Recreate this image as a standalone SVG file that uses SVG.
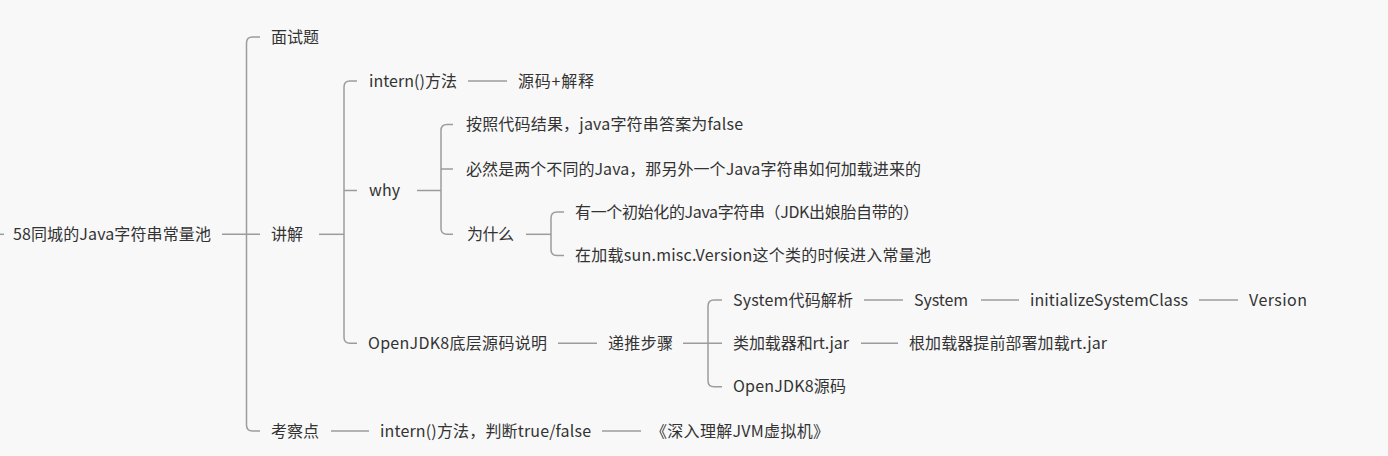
<svg xmlns="http://www.w3.org/2000/svg" width="1388" height="456" viewBox="0 0 1388 456">
<style>
.bg{fill:#f8f8f8}
.ln{fill:none;stroke:#9c9c9c;stroke-width:1.5}
text{font-family:"Microsoft YaHei","Noto Sans CJK SC","Noto Sans",sans-serif;font-size:16px;fill:#333;dominant-baseline:central}
</style>
<rect class="bg" x="0" y="0" width="1388" height="456"/>
<g id="connectors">
<path class="ln" d="M0,234.3 H4"/>
<path class="ln" d="M222,234.3 H260"/>
<path class="ln" d="M260,37 H252.5 Q246.5,37 246.5,43 V425 Q246.5,431 252.5,431 H260"/>
<path class="ln" d="M319,234.3 H344"/>
<path class="ln" d="M357,81 H350 Q344,81 344,87 V337.3 Q344,343.3 350,343.3 H357 M344,190.5 H357"/>
<path class="ln" d="M417,190.5 H441"/>
<path class="ln" d="M453,124.5 H447 Q441,124.5 441,130.5 V228.3 Q441,234.3 447,234.3 H453 M441,169 H453"/>
<path class="ln" d="M526,234.3 H551"/>
<path class="ln" d="M564,212 H557 Q551,212 551,218 V249.5 Q551,255.5 557,255.5 H564"/>
<path class="ln" d="M683,343.3 H722"/>
<path class="ln" d="M722,300 H714 Q708,300 708,306 V380.7 Q708,386.7 714,386.7 H722"/>
<path class="ln" d="M468,81 H507"/>
<path class="ln" d="M558,343.3 H597"/>
<path class="ln" d="M864,300 H903"/>
<path class="ln" d="M981,300 H1019"/>
<path class="ln" d="M1199,300 H1238"/>
<path class="ln" d="M861,343.3 H898"/>
<path class="ln" d="M331,431 H369"/>
<path class="ln" d="M602,431 H641"/>
</g>
<g id="nodes" transform="translate(0,-1.5)">
<g id="root"><text x="13" y="234.3" textLength="198">58同城的Java字符串常量池</text></g>
<g id="n-mianshiti"><text x="271" y="37" textLength="48">面试题</text></g>
<g id="n-jiangjie"><text x="271" y="234.3" textLength="32">讲解</text></g>
<g id="n-kaochadian"><text x="271" y="431" textLength="48">考察点</text></g>
<g id="n-intern"><text x="369" y="81" textLength="88">intern()方法</text></g>
<g id="n-yuanma"><text x="518" y="81" textLength="76">源码+解释</text></g>
<g id="n-why"><text x="369" y="190.5" textLength="31">why</text></g>
<g id="n-anzhao"><text x="466" y="124.5" textLength="277">按照代码结果，java字符串答案为false</text></g>
<g id="n-biran"><text x="466" y="169" textLength="455">必然是两个不同的Java，那另外一个Java字符串如何加载进来的</text></g>
<g id="n-weishenme"><text x="467" y="234.3" textLength="47">为什么</text></g>
<g id="n-youyige"><text x="575" y="212" textLength="344">有一个初始化的Java字符串（JDK出娘胎自带的）</text></g>
<g id="n-zaijiazai"><text x="575" y="255.5" textLength="356">在加载sun.misc.Version这个类的时候进入常量池</text></g>
<g id="n-openjdk"><text x="368" y="343.3" textLength="179">OpenJDK8底层源码说明</text></g>
<g id="n-ditui"><text x="608" y="343.3" textLength="65">递推步骤</text></g>
<g id="n-system-jiexi"><text x="733" y="300" textLength="120">System代码解析</text></g>
<g id="n-system"><text x="914" y="300" textLength="54">System</text></g>
<g id="n-init"><text x="1030" y="300" textLength="158">initializeSystemClass</text></g>
<g id="n-version"><text x="1249" y="300" textLength="58">Version</text></g>
<g id="n-leijiazai"><text x="733" y="343.3" textLength="116">类加载器和rt.jar</text></g>
<g id="n-genjiazai"><text x="909" y="343.3" textLength="198">根加载器提前部署加载rt.jar</text></g>
<g id="n-openjdk-src"><text x="733" y="386.7" textLength="113">OpenJDK8源码</text></g>
<g id="n-intern-judge"><text x="380" y="431" textLength="211">intern()方法，判断true/false</text></g>
<g id="n-book"><text x="651" y="431" textLength="178">《深入理解JVM虚拟机》</text></g>
</g>
</svg>
